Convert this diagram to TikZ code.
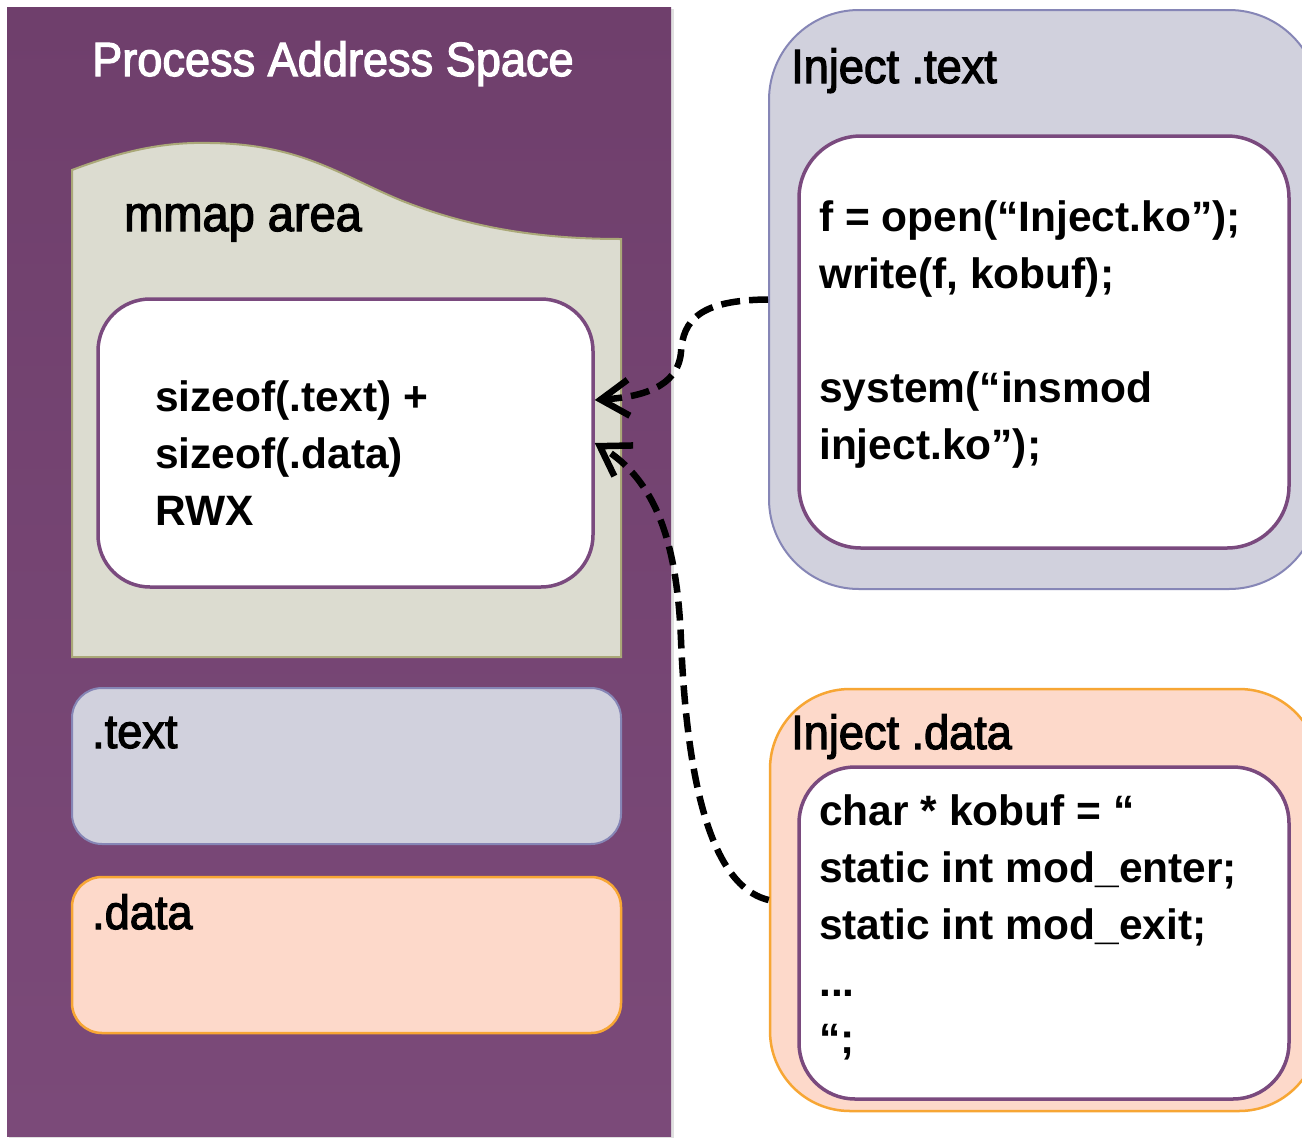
\documentclass[tikz,border=0pt]{standalone}
\usepackage{fontspec}
\setmainfont{Liberation Sans}
\newfontfamily\labelfont[FakeStretch=0.94,FakeBold=2.5]{Liberation Sans}
\usetikzlibrary{arrows.meta}

\definecolor{spacetop}{RGB}{111,63,108}
\definecolor{spacebot}{RGB}{123,74,121}
\definecolor{mmapfill}{RGB}{220,220,208}
\definecolor{mmapedge}{RGB}{170,168,120}
\definecolor{codeedge}{RGB}{122,74,126}
\definecolor{textfill}{RGB}{209,209,221}
\definecolor{textedge}{RGB}{134,134,182}
\definecolor{datafill}{RGB}{253,217,202}
\definecolor{dataedge}{RGB}{247,166,52}

\begin{document}
\begin{tikzpicture}[x=1pt,y=-1pt,
  codebox/.style={draw=codeedge, line width=3.5pt, fill=white},
  textregion/.style={draw=textedge, line width=2pt, fill=textfill},
  dataregion/.style={draw=dataedge, line width=2.5pt, fill=datafill},
  labeltext/.style={font=\labelfont\fontsize{48}{57}\selectfont, inner sep=0pt, anchor=base west},
  codetext/.style={font=\bfseries\fontsize{42.5}{57}\selectfont, inner sep=0pt, anchor=base west},
  link/.style={line width=6.5pt, dash pattern=on 19pt off 9pt,
    -{Straight Barb[length=28pt,width=36pt,line width=6.5pt]}}]

\clip (0,0) rectangle (1302,1138);
\fill[white] (0,0) rectangle (1302,1138);

% process address space column
\fill[black!12] (9,9) rectangle (674,1138);
\shade[top color=spacetop, bottom color=spacebot] (7,7) rectangle (671,1136);
\node[labeltext, text=white] (title) at (92,76) {Process Address Space};

% mmap area with wavy top edge
\draw[mmapedge, line width=2pt, fill=mmapfill]
  (72,657) -- (72,170)
  .. controls (130,148) and (170,142) .. (210,143)
  .. controls (300,144) and (340,175) .. (400,200)
  .. controls (470,228) and (540,239) .. (621,239)
  -- (621,657) -- cycle;
\node[labeltext, font=\labelfont\fontsize{50}{57}\selectfont] (mmaplbl) at (124,231) {mmap area};

\node[codebox, rounded corners=52pt, minimum width=495pt, minimum height=288pt] (rwx) at (345.5,443) {};
\node[codetext] (rwx1) at (155,411) {sizeof(.text) +};
\node[codetext] (rwx2) at (155,468) {sizeof(.data)};
\node[codetext] (rwx3) at (155,525) {RWX};

% text and data segments
\node[textregion, rounded corners=30pt, minimum width=549pt, minimum height=156pt] (textseg) at (346.5,766) {};
\node[labeltext] (textlbl) at (92,748) {.text};
\node[dataregion, rounded corners=30pt, minimum width=549pt, minimum height=156pt] (dataseg) at (346.5,955) {};
\node[labeltext] (datalbl) at (92,929) {.data};

% injected .text
\node[textregion, rounded corners=90pt, minimum width=550pt, minimum height=579pt] (injtext) at (1044,299.5) {};
\node[labeltext] (injtextlbl) at (791,83) {Inject .text};
\node[codebox, rounded corners=62pt, minimum width=490pt, minimum height=412pt] (injtextcode) at (1044,342) {};
\node[codetext] (t1) at (819,231) {f = open(“Inject.ko”);};
\node[codetext] (t2) at (819,288) {write(f, kobuf);};
\node[codetext] (t3) at (819,402) {system(“insmod};
\node[codetext] (t4) at (819,459) {inject.ko”);};

% injected .data
\node[dataregion, rounded corners=80pt, minimum width=549pt, minimum height=422pt] (injdata) at (1044.5,900) {};
\node[labeltext] (injdatalbl) at (791,749) {Inject .data};
\node[codebox, rounded corners=56pt, minimum width=490pt, minimum height=332pt] (injdatacode) at (1044,933) {};
\node[codetext] (d1) at (819,825) {char * kobuf = “};
\node[codetext] (d2) at (819,882) {static int mod\_enter;};
\node[codetext] (d3) at (819,939) {static int mod\_exit;};
\node[codetext] (d4) at (819,996) {...};
\node[codetext] (d5) at (819,1053) {“;};

% where the injected sections land
\draw[link] (injtext.west)
  .. controls (700,300) and (683,320) .. (681,352)
  .. controls (678,388) and (640,397) .. ([yshift=43pt]rwx.east);
\draw[link] (injdata.west)
  .. controls (705,885) and (686,760) .. (681,640)
  .. controls (677,540) and (655,480) .. (rwx.east);
\end{tikzpicture}
\end{document}
